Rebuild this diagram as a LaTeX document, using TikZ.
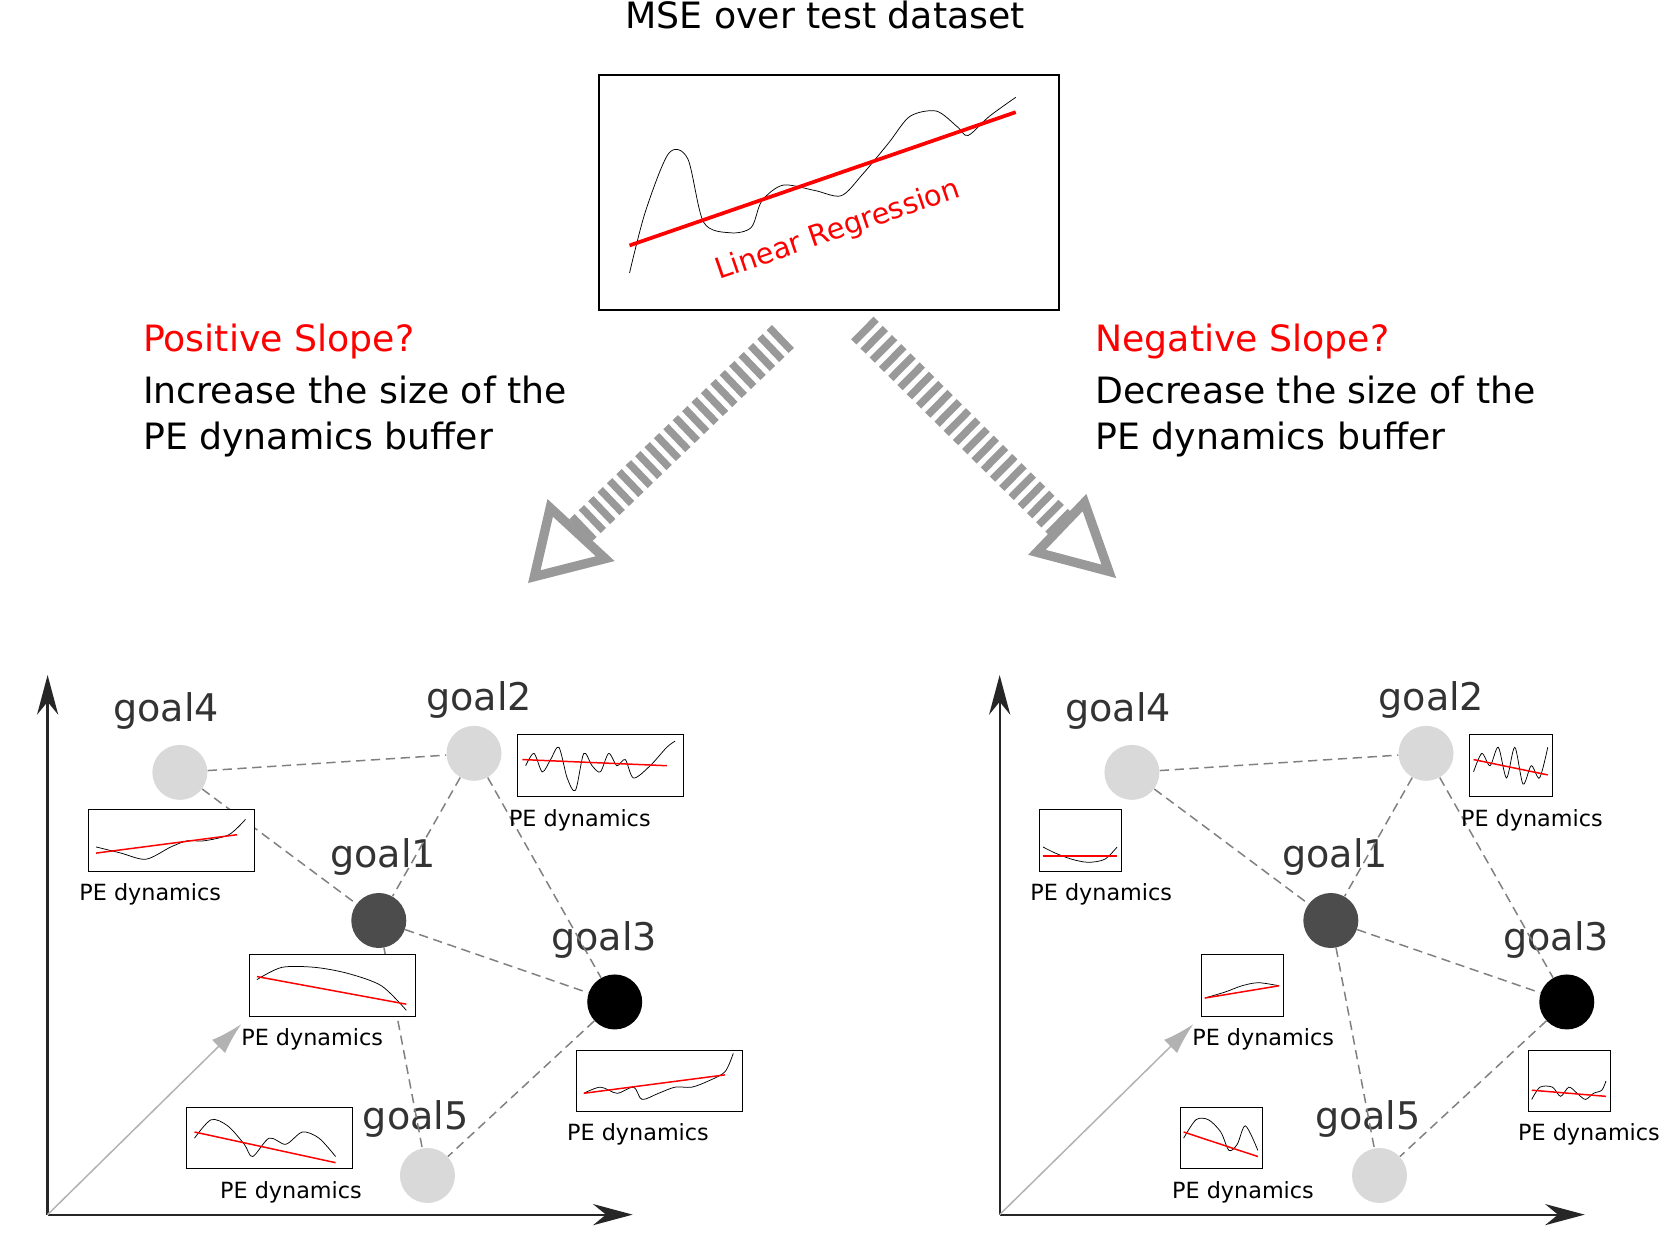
\documentclass[tikz,border=0pt]{standalone}
\usepackage{fontspec}
\setmainfont{DejaVu Sans}
\usetikzlibrary{positioning}

\tikzset{
  goalnode/.style={circle,minimum size=1.04cm,inner sep=0pt},
  goallabel/.style={text=black!80,font=\fontsize{20.5}{23}\selectfont},
  pebox/.style={draw,thin,inner sep=0pt,anchor=north west},
  pelabel/.style={font=\fontsize{12}{14}\selectfont,inner sep=1pt},
  edge/.style={gray,thick,dash pattern=on 5pt off 3pt},
  bigtext/.style={font=\fontsize{19.5}{22}\selectfont,anchor=west,inner sep=0pt},
  axis/.style={-{Stealth[length=0.75cm,width=0.4cm]},very thick,black!85},
}
\usetikzlibrary{arrows.meta}

% sparkline inside a box: node, width in px, curve, red line
\newcommand{\spark}[4]{%
  \begin{scope}[shift={(#1.south west)},x=#2*0.002cm,y=0.116cm]
    \draw[thin] plot[smooth] coordinates {#3};
    \draw[red,thick] #4;
  \end{scope}}

\begin{document}
\begin{tikzpicture}[x=0.02cm,y=-0.02cm]
\useasboundingbox (0,0) rectangle (1568,1176);
%%% TOP BOX
\node[font=\fontsize{19.5}{22}\selectfont] (title) at (780,14) {MSE over test dataset};
\node[draw,very thick,minimum width=8.7cm,minimum height=4.44cm,anchor=north west] (mse) at (565,70) {};
\draw[thin] plot[smooth] coordinates {(595,258) (610,200) (632,145) (650,150) (665,210) (690,220) (710,215) (720,190) (740,175) (770,180) (795,185) (815,165) (840,135) (860,110) (885,105) (905,120) (915,128) (935,110) (960,92)};
\draw[red,line width=2pt] (595,232) -- (960,106);
\node[red,rotate=19,font=\fontsize{15.5}{17}\selectfont] (linreg) at (792,218) {Linear Regression};

%%% TEXTS
\node[bigtext,red] (pos) at (135,323) {Positive Slope?};
\node[bigtext] (inc1) at (135,369) {Increase the size of the};
\node[bigtext] (inc2) at (135,415) {PE dynamics buffer};
\node[bigtext,red] (neg) at (1035,323) {Negative Slope?};
\node[bigtext] (dec1) at (1035,369) {Decrease the size of the};
\node[bigtext] (dec2) at (1035,415) {PE dynamics buffer};

%%% BIG ARROWS
\coordinate (la) at (740,318); \coordinate (lb) at (548,502);
\coordinate (ra) at (815,310); \coordinate (rb) at (1003,496);
\draw[black!40,line width=0.6cm,dash pattern=on 4pt off 3pt] (la) -- (lb);
\draw[black!40,line width=0.6cm,dash pattern=on 4pt off 3pt] (ra) -- (rb);
\draw[black!40,line width=5pt,line join=miter] (505,545) -- (520,480) -- (572,528) -- cycle;
\draw[black!40,line width=5pt,line join=miter] (1048,540) -- (1025,475) -- (980,522) -- cycle;

%%% LEFT PANEL
\begin{scope}
\coordinate (o) at (45,1148);
\draw[axis] (o) -- (45,638);
\draw[axis] (o) -- (598,1148);
\draw[-{Latex[length=0.6cm,width=0.35cm]},thick,black!30] (o) -- (228,968);
\node[goalnode,fill=black!15] (g4) at (170,730) {};
\node[goalnode,fill=black!15] (g2) at (448,712) {};
\node[goalnode,fill=black!70] (g1) at (358,870) {};
\node[goalnode,fill=black] (g3) at (581,947) {};
\node[goalnode,fill=black!15] (g5) at (404,1111) {};
\node[goallabel] at (157,672) {goal4};
\node[goallabel] at (453,662) {goal2};
\node[goallabel] at (362,810) {goal1};
\node[goallabel] at (571,888) {goal3};
\node[goallabel] at (393,1058) {goal5};
\draw[edge] (g4) -- (g2); \draw[edge] (g4) -- (g1); \draw[edge] (g2) -- (g1);
\draw[edge] (g2) -- (g3); \draw[edge] (g1) -- (g3); \draw[edge] (g1) -- (g5);
\draw[edge] (g3) -- (g5);
\node[pebox,fill=white,minimum width=3.14cm,minimum height=1.16cm] (p2) at (489,694) {};
\node[pebox,fill=white,minimum width=3.14cm,minimum height=1.16cm] (p4) at (83,765) {};
\node[pebox,fill=white,minimum width=3.14cm,minimum height=1.16cm] (p1) at (235,902) {};
\node[pebox,fill=white,minimum width=3.14cm,minimum height=1.16cm] (p3) at (544,992) {};
\node[pebox,fill=white,minimum width=3.14cm,minimum height=1.16cm] (p5) at (176,1046) {};
\node[pelabel] at (548,775) {PE dynamics};
\node[pelabel] at (142,845) {PE dynamics};
\node[pelabel] at (295,982) {PE dynamics};
\node[pelabel] at (603,1072) {PE dynamics};
\node[pelabel] at (275,1127) {PE dynamics};
\spark{p2}{157}{(0.5,5) (1,7) (1.5,4) (2,6) (2.5,8) (3,3) (3.5,1) (4,7) (4.5,5) (5,4) (5.5,7) (6,5) (6.5,6) (7,3) (8,5) (9,8) (9.5,9)}{(0.3,6) -- (9,5)}
\spark{p4}{157}{(0.5,4) (2,3) (3.5,2) (5,4) (6,5) (7,5) (8.5,6) (9.5,8.5)}{(0.5,3) -- (9,6)}
\spark{p1}{157}{(0.5,6) (2,8) (4,8) (6,7) (8,5) (9.5,1)}{(0.5,6.5) -- (9.5,2)}
\spark{p3}{157}{(0.5,3) (1.5,4) (2.5,3) (3.5,4) (4,2) (5,3) (6,4) (7,4) (8,5) (9,6.5) (9.5,9.5)}{(0.5,3) -- (9,6)}
\spark{p5}{157}{(0.5,5) (1.5,8) (2.5,7) (3.5,4) (4,2) (5,5) (6,4) (7,6) (8,5) (9,2)}{(0.5,6) -- (9,1)}
\end{scope}

%%% RIGHT PANEL
\begin{scope}[xshift=18cm]
\coordinate (o') at (45,1148);
\draw[axis] (o') -- (45,638);
\draw[axis] (o') -- (598,1148);
\draw[-{Latex[length=0.6cm,width=0.35cm]},thick,black!30] (o') -- (228,968);
\node[goalnode,fill=black!15] (h4) at (170,730) {};
\node[goalnode,fill=black!15] (h2) at (448,712) {};
\node[goalnode,fill=black!70] (h1) at (358,870) {};
\node[goalnode,fill=black] (h3) at (581,947) {};
\node[goalnode,fill=black!15] (h5) at (404,1111) {};
\node[goallabel] at (157,672) {goal4};
\node[goallabel] at (453,662) {goal2};
\node[goallabel] at (362,810) {goal1};
\node[goallabel] at (571,888) {goal3};
\node[goallabel] at (393,1058) {goal5};
\draw[edge] (h4) -- (h2); \draw[edge] (h4) -- (h1); \draw[edge] (h2) -- (h1);
\draw[edge] (h2) -- (h3); \draw[edge] (h1) -- (h3); \draw[edge] (h1) -- (h5);
\draw[edge] (h3) -- (h5);
\node[pebox,fill=white,minimum width=1.56cm,minimum height=1.16cm] (q2) at (489,694) {};
\node[pebox,fill=white,minimum width=1.56cm,minimum height=1.16cm] (q4) at (82,765) {};
\node[pebox,fill=white,minimum width=1.56cm,minimum height=1.16cm] (q1) at (235,902) {};
\node[pebox,fill=white,minimum width=1.56cm,minimum height=1.16cm] (q3) at (544,992) {};
\node[pebox,fill=white,minimum width=1.56cm,minimum height=1.16cm] (q5) at (215,1046) {};
\node[pelabel] at (548,775) {PE dynamics};
\node[pelabel] at (141,845) {PE dynamics};
\node[pelabel] at (294,982) {PE dynamics};
\node[pelabel] at (602,1072) {PE dynamics};
\node[pelabel] at (275,1127) {PE dynamics};
\spark{q2}{78}{(0.5,4) (1.5,7) (2.5,5) (3.5,8) (4.5,3) (5.5,8) (6.5,2) (7.5,5) (8.5,3) (9.5,8)}{(0.5,6) -- (9.5,3.5)}
\spark{q4}{78}{(0.5,4) (2,3) (4,2) (6,1.5) (8,2) (9.5,4)}{(0.5,2.5) -- (9.5,2.5)}
\spark{q1}{78}{(0.5,3) (3,4) (5,5) (7,5.5) (9.5,5)}{(0.5,3) -- (9.5,5)}
\spark{q3}{78}{(0.5,2) (1.5,4) (3,4) (4,2.5) (5,4) (6,3) (7,2) (8,3) (9,3.5) (9.5,5)}{(0.5,3.5) -- (9.5,2.5)}
\spark{q5}{78}{(0.5,5) (2,8) (3.5,8) (5,6) (6,3) (7,4) (8,7) (9.5,3)}{(0.5,6) -- (9.5,2)}
\end{scope}
\end{tikzpicture}
\end{document}
